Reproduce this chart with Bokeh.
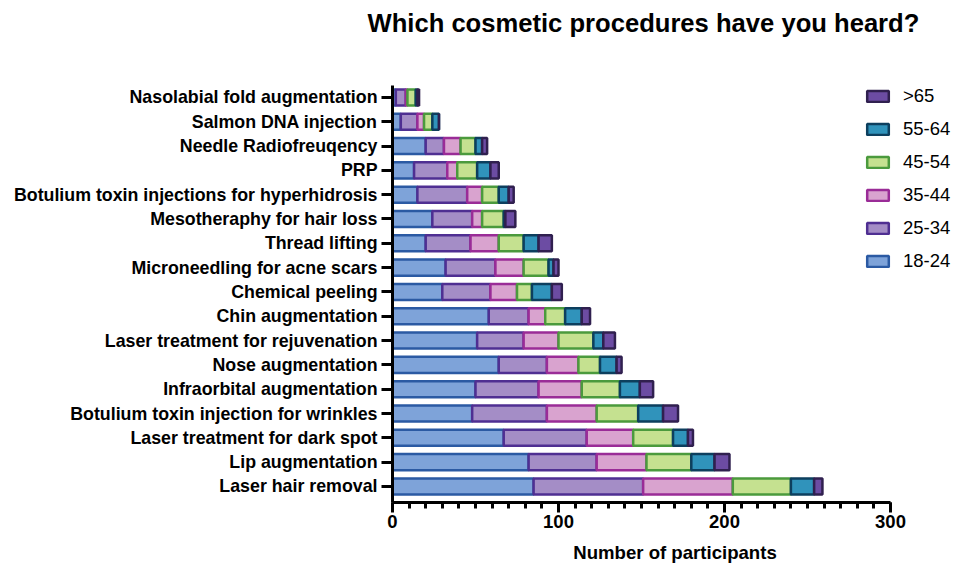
from bokeh.plotting import figure
from bokeh.models import ColumnDataSource, Legend, LegendItem, FixedTicker, Range1d, Title
from bokeh.embed import file_html
from bokeh.resources import INLINE

# Categories, listed top to bottom as in the chart
procedures = [
    "Nasolabial fold augmentation",
    "Salmon DNA injection",
    "Needle Radiofreuqency",
    "PRP",
    "Botulium toxin injections for hyperhidrosis",
    "Mesotheraphy for hair loss",
    "Thread lifting",
    "Microneedling for acne scars",
    "Chemical peeling",
    "Chin augmentation",
    "Laser treatment for rejuvenation",
    "Nose augmentation",
    "Infraorbital augmentation",
    "Botulium toxin injection for wrinkles",
    "Laser treatment for dark spot",
    "Lip augmentation",
    "Laser hair removal",
]

age_groups = ["18-24", "25-34", "35-44", "45-54", "55-64", ">65"]

age_18_24 = [2, 5, 20, 13, 15, 24, 20, 32, 30, 58, 51, 64, 50, 48, 67, 82, 85]
age_25_34 = [6, 10, 11, 20, 30, 24, 27, 30, 29, 24, 28, 29, 38, 45, 50, 41, 66]
age_35_44 = [1, 4, 10, 6, 9, 6, 17, 17, 16, 10, 21, 19, 26, 30, 28, 30, 54]
age_45_54 = [5, 5, 9, 12, 10, 13, 15, 15, 9, 12, 21, 13, 23, 25, 24, 27, 35]
age_55_64 = [1, 4, 4, 8, 6, 1, 9, 3, 12, 10, 6, 10, 12, 15, 9, 14, 14]
age_65_up = [1, 0, 3, 5, 3, 6, 8, 3, 6, 5, 7, 3, 8, 9, 3, 9, 5]

x_ticks = [0, 100, 200, 300]

series = [age_18_24, age_25_34, age_35_44, age_45_54, age_55_64, age_65_up]

fill_colors = ["#7ea3d9", "#a48dc6", "#d9a3cf", "#c5e190", "#3093bb", "#6c4ca3"]
line_colors = ["#2b5aa3", "#4f2f92", "#9a2c97", "#4b9a3d", "#0d3f5e", "#30204f"]

n = len(procedures)
ypos = list(range(n, 0, -1))

data = {"y": ypos, "name": procedures}
for g, s in zip(age_groups, series):
    data[g] = s
source = ColumnDataSource(data)

FONT = "Liberation Sans"

W, H = 957, 566
LEFT, RIGHT, TOP, BOTTOM = 392, 0, 85, 64
x_end = 300 * (W - RIGHT - LEFT) / (890 - LEFT)

p = figure(
    width=W, height=H, title=None,
    x_range=Range1d(0, x_end), y_range=Range1d(0.34, 17.49),
    output_backend="svg", toolbar_location=None,
    min_border_left=LEFT, min_border_right=RIGHT,
    min_border_top=TOP, min_border_bottom=BOTTOM,
)

renderers = p.hbar_stack(
    age_groups, y="y", height=0.66, source=source,
    fill_color=fill_colors, line_color=line_colors, line_width=2.5,
)

p.xgrid.visible = False
p.ygrid.visible = False
p.outline_line_color = None

# Title (a blank spacer title sits between the frame and the real title)
spacer = Title(text=" ", text_font=FONT, text_font_size="10px", standoff=31)
p.add_layout(spacer, "above")
main_title = Title(
    text="Which cosmetic procedures have you heard?",
    text_font=FONT, text_font_size="25.6px", text_font_style="bold",
    text_color="black", align="left", offset=-25, standoff=10,
)
p.add_layout(main_title, "above")

# Y axis
ya = p.yaxis[0]
ya.ticker = FixedTicker(ticks=ypos)
ya.major_label_overrides = {y: name for y, name in zip(ypos, procedures)}
ya.minor_tick_line_color = None
ya.axis_line_width = 3
ya.major_tick_line_width = 3
ya.major_tick_out = 11
ya.major_tick_in = 0
ya.major_label_standoff = 4
ya.major_label_text_font = FONT
ya.major_label_text_font_size = "17.8px"
ya.major_label_text_font_style = "bold"
ya.major_label_text_color = "black"

# X axis
xa = p.xaxis[0]
xa.bounds = (0, 300)
xa.ticker = FixedTicker(ticks=x_ticks, minor_ticks=list(range(0, 301, 10)))
xa.axis_line_width = 3
xa.major_tick_line_width = 3
xa.major_tick_out = 10
xa.major_tick_in = 0
xa.minor_tick_line_width = 3
xa.minor_tick_out = 6
xa.minor_tick_in = 0
xa.major_label_standoff = 2
xa.major_label_text_font = FONT
xa.major_label_text_font_size = "18.5px"
xa.major_label_text_font_style = "bold"
xa.major_label_text_color = "black"
xa.axis_label = "Number of participants"
xa.axis_label_text_font = FONT
xa.axis_label_text_font_size = "18.6px"
xa.axis_label_text_font_style = "bold"
xa.axis_label_text_color = "black"
xa.axis_label_standoff = 11

# Legend (>65 on top)
items = [LegendItem(label=g, renderers=[r]) for g, r in zip(age_groups, renderers)]
items = items[::-1]
legend = Legend(
    items=items, location=(472, 230),
    glyph_width=27, glyph_height=14,
    label_text_font=FONT, label_text_font_size="18.5px", label_text_color="black",
    label_standoff=12, spacing=11, padding=0, margin=0,
    border_line_alpha=0, background_fill_alpha=0,
)
p.add_layout(legend, "center")

open("out.html", "w").write(file_html(p, INLINE))
